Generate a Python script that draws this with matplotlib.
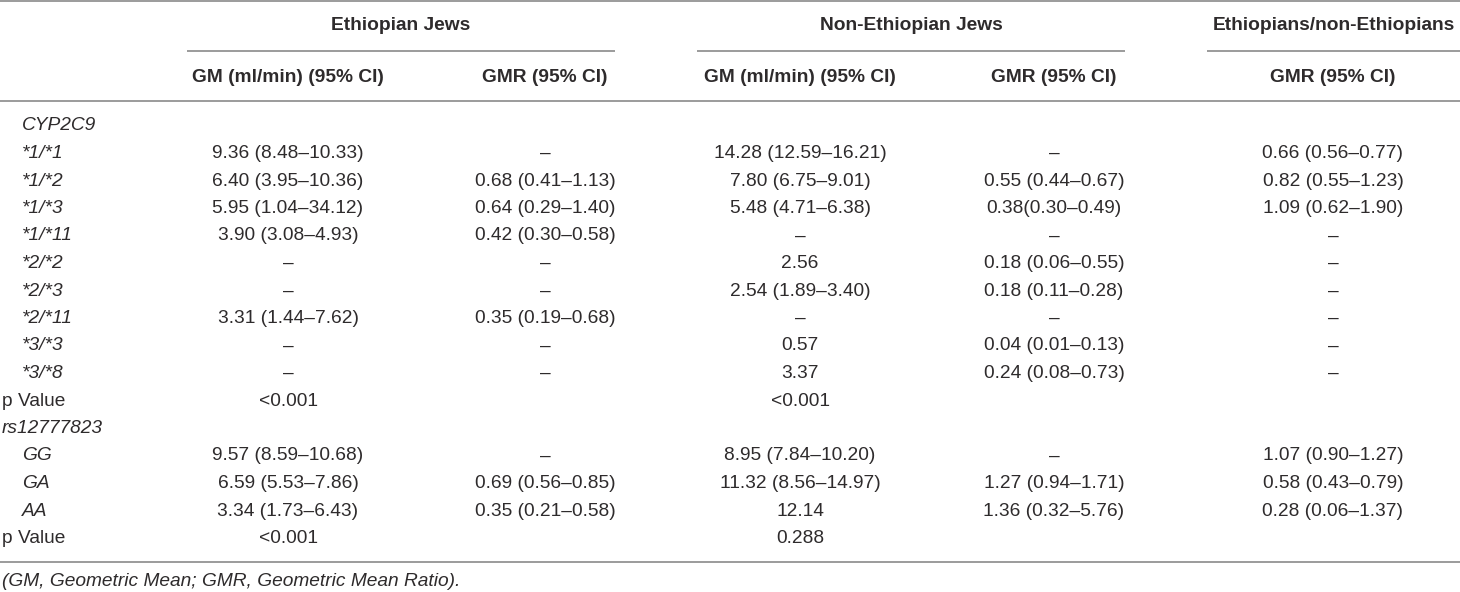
import matplotlib.pyplot as plt

plt.rcParams['font.family'] = ['Liberation Sans', 'DejaVu Sans']

# Table content
group_headers = ["Ethiopian Jews", "Non-Ethiopian Jews", "Ethiopians/non-Ethiopians"]
sub_headers = ["GM (ml/min) (95% CI)", "GMR (95% CI)", "GM (ml/min) (95% CI)", "GMR (95% CI)", "GMR (95% CI)"]

row_labels = ["CYP2C9", "*1/*1", "*1/*2", "*1/*3", "*1/*11", "*2/*2", "*2/*3", "*2/*11",
              "*3/*3", "*3/*8", "p Value", "rs12777823", "GG", "GA", "AA", "p Value"]
label_italic = [True] * 10 + [False] + [True] * 4 + [False]
label_indent = [True] * 10 + [False, False, True, True, True, False]

eth_gm = ["", "9.36 (8.48–10.33)", "6.40 (3.95–10.36)", "5.95 (1.04–34.12)", "3.90 (3.08–4.93)",
          "–", "–", "3.31 (1.44–7.62)", "–", "–", "<0.001", "",
          "9.57 (8.59–10.68)", "6.59 (5.53–7.86)", "3.34 (1.73–6.43)", "<0.001"]
eth_gmr = ["", "–", "0.68 (0.41–1.13)", "0.64 (0.29–1.40)", "0.42 (0.30–0.58)",
           "–", "–", "0.35 (0.19–0.68)", "–", "–", "", "",
           "–", "0.69 (0.56–0.85)", "0.35 (0.21–0.58)", ""]
non_gm = ["", "14.28 (12.59–16.21)", "7.80 (6.75–9.01)", "5.48 (4.71–6.38)", "–",
          "2.56", "2.54 (1.89–3.40)", "–", "0.57", "3.37", "<0.001", "",
          "8.95 (7.84–10.20)", "11.32 (8.56–14.97)", "12.14", "0.288"]
non_gmr = ["", "–", "0.55 (0.44–0.67)", "0.38(0.30–0.49)", "–",
           "0.18 (0.06–0.55)", "0.18 (0.11–0.28)", "–", "0.04 (0.01–0.13)", "0.24 (0.08–0.73)", "", "",
           "–", "1.27 (0.94–1.71)", "1.36 (0.32–5.76)", ""]
ratio_gmr = ["", "0.66 (0.56–0.77)", "0.82 (0.55–1.23)", "1.09 (0.62–1.90)", "–",
             "–", "–", "–", "–", "–", "", "",
             "1.07 (0.90–1.27)", "0.58 (0.43–0.79)", "0.28 (0.06–1.37)", ""]

footnote = "(GM, Geometric Mean; GMR, Geometric Mean Ratio)."

# layout (pixel units, y downwards)
W, H = 1460, 592
col_x = [288, 545, 800, 1054, 1333]
group_spans = [(187, 615), (697, 1125), (1207, 1460)]
row0, row_step = 126, 27.5
fs = 13.8
txt = '#2e2b2c'
rule = '#8a8a8a'

fig = plt.figure(figsize=(W / 100, H / 100), dpi=100)
ax = fig.add_axes([0, 0, 1, 1])
ax.set_xlim(0, W)
ax.set_ylim(H, 0)
ax.axis('off')

# rules
ax.hlines([1, 101, 562], 0, W, color=rule, lw=1.2)
for x0, x1 in group_spans:
    ax.hlines(51, x0, x1, color=rule, lw=1.2)

# headers
for (x0, x1), name in zip(group_spans, group_headers):
    ax.text((x0 + x1) / 2, 25, name, ha='center', va='center', fontsize=fs, fontweight='bold', color=txt)
for x, name in zip(col_x, sub_headers):
    ax.text(x, 77, name, ha='center', va='center', fontsize=fs, fontweight='bold', color=txt)

# body
columns = [eth_gm, eth_gmr, non_gm, non_gmr, ratio_gmr]
for i, lab in enumerate(row_labels):
    y = row0 + i * row_step
    ax.text(22 if label_indent[i] else 2, y, lab, ha='left', va='center', fontsize=fs,
            style='italic' if label_italic[i] else 'normal', color=txt)
    for x, col in zip(col_x, columns):
        if col[i]:
            ax.text(x, y, col[i], ha='center', va='center', fontsize=fs, color=txt)

ax.text(2, 582, footnote, ha='left', va='center', fontsize=fs, style='italic', color=txt)

fig.savefig('out.png', dpi=100)
